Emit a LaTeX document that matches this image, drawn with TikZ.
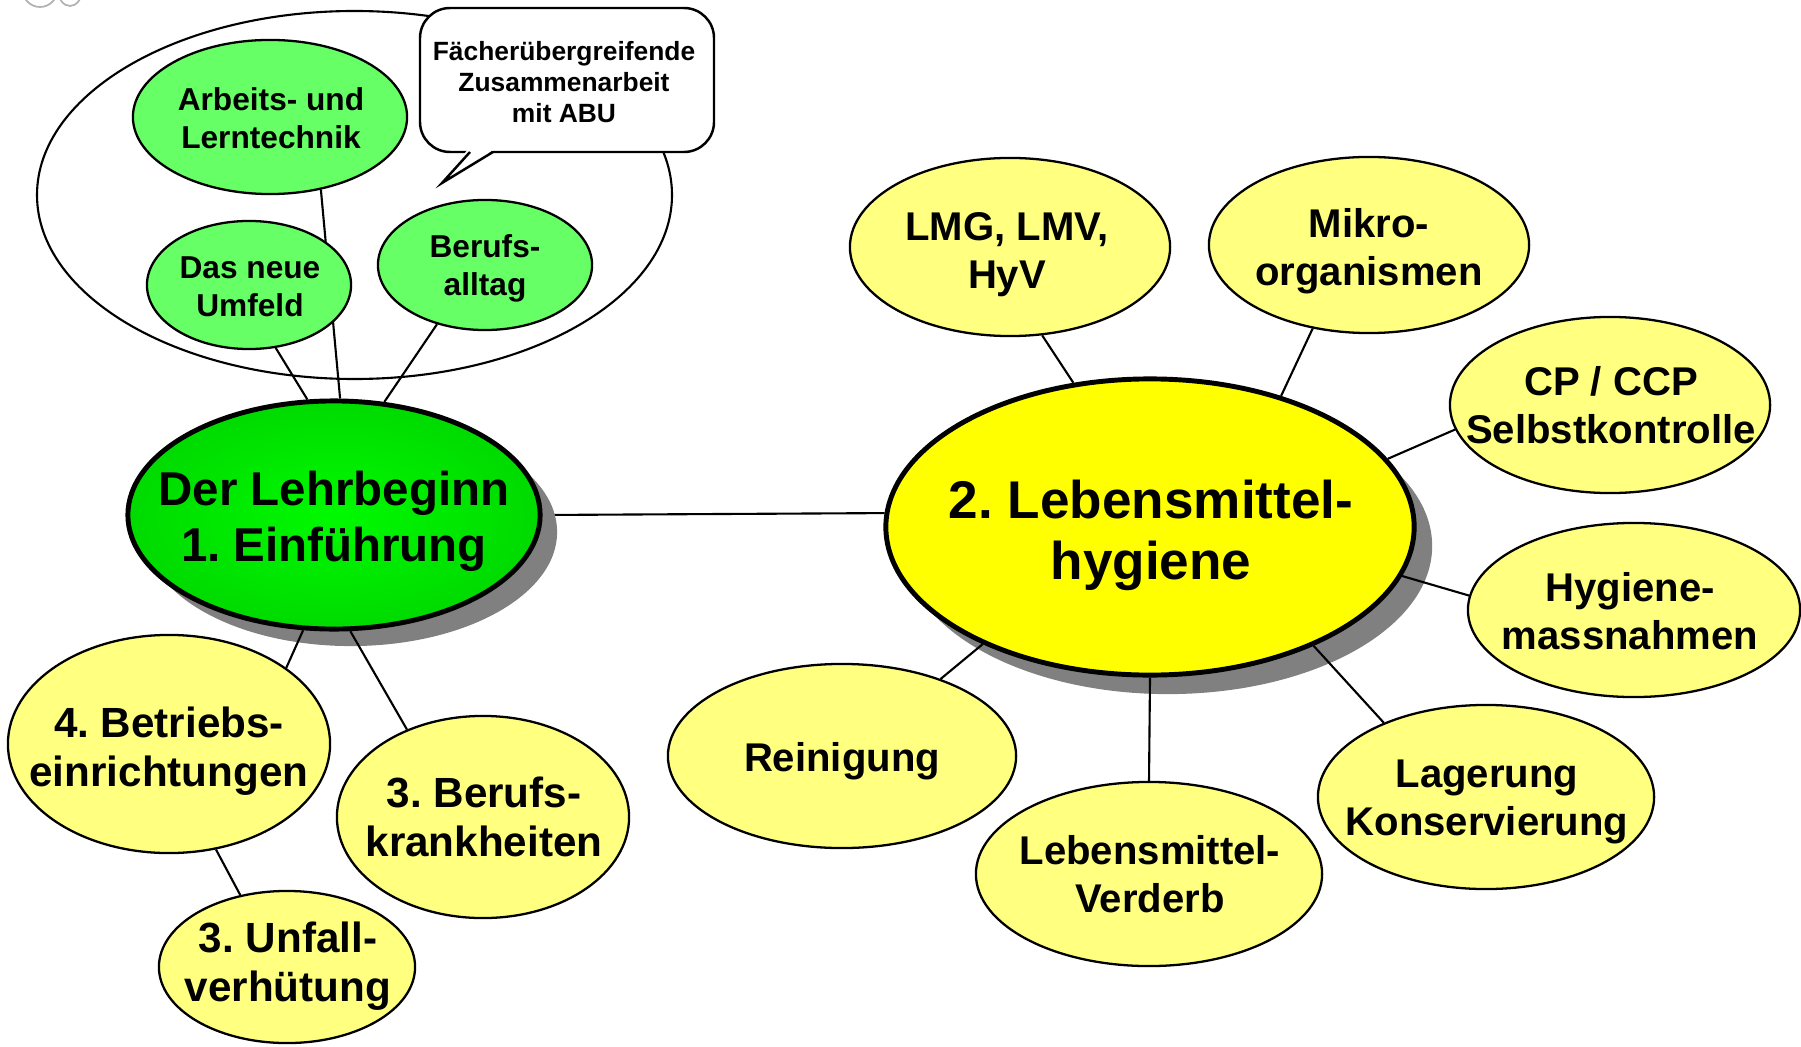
\documentclass[tikz,border=0pt]{standalone}
\usepackage{fontspec}
\setmainfont{Liberation Sans}
\usetikzlibrary{shapes.geometric,shadows,backgrounds}
\definecolor{satyellow}{RGB}{255,255,128}
\definecolor{mainyellow}{RGB}{255,255,0}
\definecolor{lightgreen}{RGB}{102,255,102}
\definecolor{shadowgray}{RGB}{128,128,128}
\definecolor{greenin}{RGB}{0,250,0}
\definecolor{greenout}{RGB}{0,218,0}
\frenchspacing
\begin{document}
\begin{tikzpicture}[x=0.01cm,y=-0.01cm,
  ell/.style={ellipse, draw, inner sep=0pt},
  sat/.style={ell, fill=satyellow, line width=0.65pt},
  sgreen/.style={ell, fill=lightgreen, line width=0.65pt},
  satxt/.style={align=center, inner sep=0pt, font=\fontsize{11.4}{13.7}\selectfont\bfseries},
  satbig/.style={align=center, inner sep=0pt, font=\fontsize{12}{14.2}\selectfont\bfseries},
  sgtxt/.style={align=center, inner sep=0pt, font=\fontsize{9}{10.8}\selectfont\bfseries},
  cotxt/.style={align=center, inner sep=0pt, font=\fontsize{7.5}{8.8}\selectfont\bfseries},
  gmtxt/.style={align=center, inner sep=0pt, font=\fontsize{13.5}{15.9}\selectfont\bfseries},
  ymtxt/.style={align=center, inner sep=0pt, font=\fontsize{15.1}{17.1}\selectfont\bfseries},
  link/.style={line width=0.6pt}
]
\useasboundingbox (0,0) rectangle (1801,1046);

% small grey icon cut at the top-left corner
\draw[gray!60, line width=0.5pt] (40,-12) ellipse [x radius=18, y radius=19];
\draw[gray!60, line width=0.5pt] (70,-10) ellipse [x radius=12, y radius=16];

% group outline
\draw[line width=0.6pt] (354.5,195) ellipse [x radius=317.5, y radius=184];

% callout
\draw[line width=0.7pt, fill=white, rounded corners=0.3cm] (420,8) rectangle (714,152);
\fill[white] (468,149) -- (442,183) -- (495,149) -- cycle;
\draw[line width=0.7pt, line join=miter] (470,152) -- (442,183) -- (493,152);
\node[cotxt] (tco) at (564,85) {Fächerübergreifende\strut\\Zusammenarbeit\strut\\mit ABU\strut};

% green group nodes
\node[sgreen, minimum width=2.74cm, minimum height=1.54cm] (arb) at (270,117) {};
\node[sgreen, minimum width=2.04cm, minimum height=1.28cm] (dn) at (249,285) {};
\node[sgreen, minimum width=2.14cm, minimum height=1.30cm] (ba) at (485,265) {};
\node[sgtxt] (tarb) at (271,122) {Arbeits- und\strut\\Lerntechnik\strut};
\node[sgtxt] (tdn) at (250,290) {Das neue\strut\\Umfeld\strut};
\node[sgtxt] (tba) at (485,269) {Berufs-\strut\\alltag\strut};

% main nodes
\node[ell, line width=1.4pt, inner color=greenin, outer color=greenout,
      minimum width=4.12cm, minimum height=2.28cm,
      drop shadow={shadow xshift=0.17cm, shadow yshift=-0.17cm, fill=shadowgray, opacity=1}] (gm) at (334,515) {};
\node[ell, line width=1.4pt, fill=mainyellow,
      minimum width=5.28cm, minimum height=2.96cm,
      drop shadow={shadow xshift=0.18cm, shadow yshift=-0.19cm, fill=shadowgray, opacity=1}] (ym) at (1150,527) {};
\node[gmtxt] (tgm) at (334,522) {Der Lehrbeginn\strut\\1. Einführung\strut};
\node[ymtxt] (tym) at (1151,537) {2. Lebensmittel-\strut\\hygiene\strut};

% yellow satellites
\node[sat, minimum width=3.20cm, minimum height=1.78cm] (lmg) at (1010,247) {};
\node[sat, minimum width=3.20cm, minimum height=1.76cm] (mik) at (1369,245) {};
\node[sat, minimum width=3.20cm, minimum height=1.76cm] (cp) at (1610,405) {};
\node[sat, minimum width=3.32cm, minimum height=1.74cm] (hyg) at (1634,610) {};
\node[sat, minimum width=3.36cm, minimum height=1.84cm] (lag) at (1486,797) {};
\node[sat, minimum width=3.46cm, minimum height=1.84cm] (ver) at (1149,874) {};
\node[sat, minimum width=3.48cm, minimum height=1.84cm] (rei) at (842,756) {};
\node[sat, minimum width=3.22cm, minimum height=2.18cm] (bet) at (169,744) {};
\node[sat, minimum width=2.92cm, minimum height=2.02cm] (bk) at (483,817) {};
\node[sat, minimum width=2.56cm, minimum height=1.52cm] (unf) at (287,967) {};

\node[satxt] (tlmg) at (1007,255) {LMG, LMV,\strut\\HyV\strut};
\node[satxt] (tmik) at (1369,252) {Mikro-\strut\\organismen\strut};
\node[satxt] (tcp) at (1611,410) {CP / CCP\strut\\Selbstkontrolle\strut};
\node[satxt] (thyg) at (1630,616) {Hygiene-\strut\\massnahmen\strut};
\node[satxt] (tlag) at (1487,802) {Lagerung\strut\\Konservierung\strut};
\node[satxt] (tver) at (1150,879) {Lebensmittel-\strut\\Verderb\strut};
\node[satxt] (trei) at (842,762) {Reinigung\strut};
\node[satbig] (tbet) at (169,752) {4. Betriebs-\strut\\einrichtungen\strut};
\node[satbig] (tbk) at (484,822) {3. Berufs-\strut\\krankheiten\strut};
\node[satbig] (tunf) at (288,967) {3. Unfall-\strut\\verhütung\strut};

% connectors hidden behind nodes
\begin{pgfonlayer}{background}
  \draw[link] (arb.-55) -- (gm.87);
  \draw[link] (gm.-0.5) -- (ym.177.5);
\end{pgfonlayer}

% connectors on top
\draw[link] (dn.-67) -- (gm.103.7);
\draw[link] (ba.231.2) -- (gm.66.2);
\draw[link] (lmg.-70.4) -- (ym.118.6);
\draw[link] (mik.-124.9) -- (ym.45.7);
\draw[link] (cp.189) -- (ym.16.2);
\draw[link] (hyg.175.4) -- (ym.-11.4);
\draw[link] (lag.144.2) -- (ym.-36.1);
\draw[link] (ver.north) -- (ym.south);
\draw[link] (rei.38.2) -- (ym.-145);
\draw[link] (bet.33.7) -- (gm.-105.2);
\draw[link] (bk.131.2) -- (gm.-82.5);
\draw[link] (unf.123.5) -- (bet.-66.3);
\end{tikzpicture}
\end{document}
